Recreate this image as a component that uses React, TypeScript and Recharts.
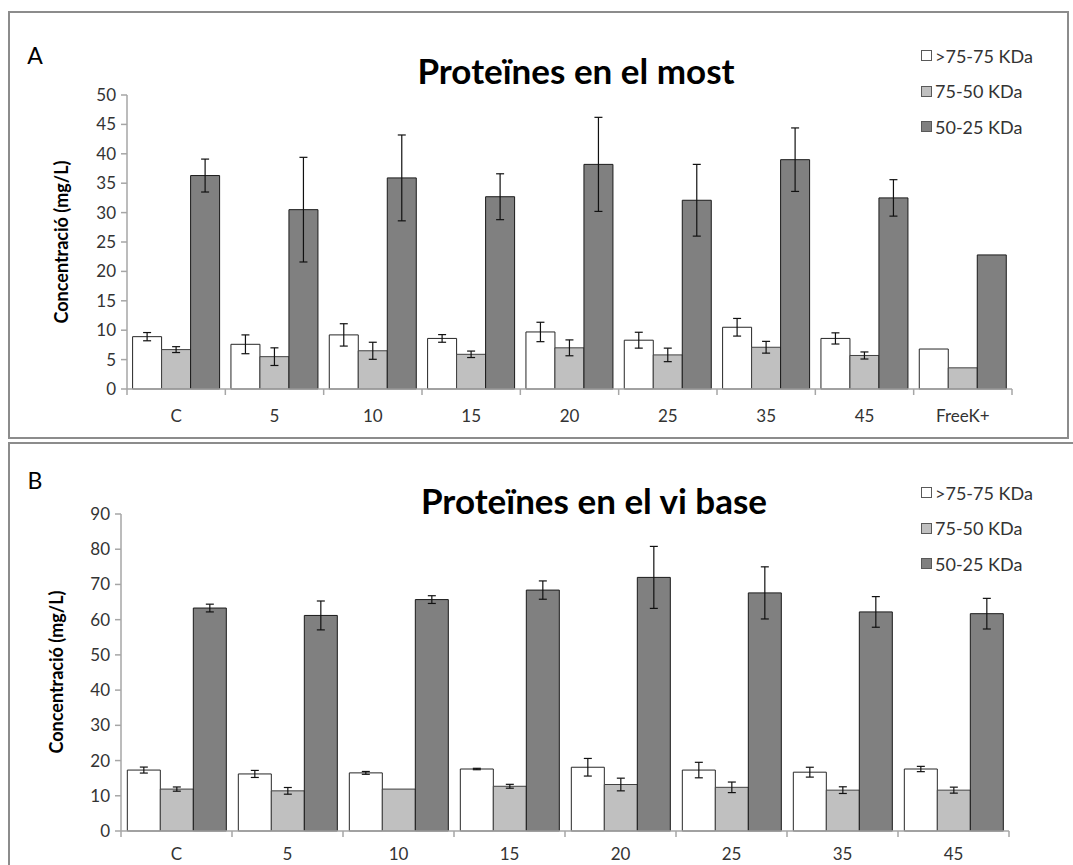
import React from 'react';
import { BarChart, Bar, XAxis, YAxis, ErrorBar, Legend } from 'recharts';

// ---- Panel A: Proteïnes en el most ----
const categoriesA = ['C', '5', '10', '15', '20', '25', '35', '45', 'FreeK+'];
const a7575 = [8.9, 7.6, 9.2, 8.6, 9.7, 8.3, 10.5, 8.6, 6.8];
const a7575Err = [0.7, 1.6, 1.9, 0.65, 1.65, 1.35, 1.5, 0.95, 0];
const a7550 = [6.7, 5.5, 6.5, 5.9, 7.0, 5.8, 7.1, 5.7, 3.6];
const a7550Err = [0.5, 1.5, 1.45, 0.55, 1.35, 1.15, 1.0, 0.6, 0];
const a5025 = [36.3, 30.5, 35.9, 32.7, 38.2, 32.1, 39.0, 32.5, 22.8];
const a5025Err = [2.8, 8.9, 7.3, 3.9, 8.0, 6.1, 5.4, 3.1, 0];
const ticksA = [0, 5, 10, 15, 20, 25, 30, 35, 40, 45, 50];

// ---- Panel B: Proteïnes en el vi base ----
const categoriesB = ['C', '5', '10', '15', '20', '25', '35', '45'];
const b7575 = [17.3, 16.2, 16.5, 17.6, 18.1, 17.3, 16.7, 17.6];
const b7575Err = [0.85, 1.0, 0.4, 0.2, 2.5, 2.2, 1.4, 0.75];
const b7550 = [11.9, 11.4, 11.9, 12.7, 13.2, 12.4, 11.6, 11.6];
const b7550Err = [0.6, 0.95, 0, 0.55, 1.8, 1.5, 0.95, 0.85];
const b5025 = [63.3, 61.2, 65.7, 68.4, 72.0, 67.6, 62.2, 61.7];
const b5025Err = [1.1, 4.1, 1.1, 2.6, 8.8, 7.4, 4.35, 4.35];
const ticksB = [0, 10, 20, 30, 40, 50, 60, 70, 80, 90];

const seriesNames = ['>75-75 KDa', '75-50 KDa', '50-25 KDa'];
const seriesFills = ['#ffffff', '#c0c0c0', '#808080'];

const titleA = 'Proteïnes en el most';
const titleB = 'Proteïnes en el vi base';
const yLabel = 'Concentració (mg/L)';

const FONT = 'Lato, "Open Sans", sans-serif';
const AXIS_COLOR = '#a6a6a6';
const TEXT_COLOR = '#333333';

function buildRows(cats: string[], v1: number[], e1: number[], v2: number[], e2: number[], v3: number[], e3: number[]) {
  return cats.map((c, i) => ({ cat: c, s1: v1[i], e1: e1[i], s2: v2[i], e2: e2[i], s3: v3[i], e3: e3[i] }));
}

const rowsA = buildRows(categoriesA, a7575, a7575Err, a7550, a7550Err, a5025, a5025Err);
const rowsB = buildRows(categoriesB, b7575, b7575Err, b7550, b7550Err, b5025, b5025Err);

function makeCategoryTick(count: number, labelDy: number) {
  return (props: any) => {
    const { x, y, payload, index } = props;
    const half = payload && typeof payload.offset === 'number' ? payload.offset : 0;
    const last = index === count - 1;
    return (
      <g>
        <line x1={x - half} x2={x - half} y1={y} y2={y + 6} stroke={AXIS_COLOR} strokeWidth={1.5} />
        {last ? <line x1={x + half} x2={x + half} y1={y} y2={y + 6} stroke={AXIS_COLOR} strokeWidth={1.5} /> : null}
        <text x={x} y={y + labelDy} textAnchor="middle" fontSize={17} fontFamily={FONT} fill={TEXT_COLOR}>
          {payload.value}
        </text>
      </g>
    );
  };
}

const renderLegend = (props: any) => {
  const payload = (props.payload || []).slice().sort(
    (a: any, b: any) => seriesNames.indexOf(a.value) - seriesNames.indexOf(b.value)
  );
  return (
    <div style={{ fontFamily: FONT }}>
      {payload.map((entry: any, i: number) => (
        <div key={i} style={{ display: 'flex', alignItems: 'center', height: 35.5 }}>
          <span
            style={{
              display: 'inline-block',
              width: 9,
              height: 9,
              border: '1px solid #595959',
              background: entry.color,
              marginRight: 3,
            }}
          />
          <span style={{ fontSize: 18, color: TEXT_COLOR, whiteSpace: 'nowrap' }}>{entry.value}</span>
        </div>
      ))}
    </div>
  );
};

function Panel(props: {
  rows: any[];
  count: number;
  ticks: number[];
  max: number;
  width: number;
  height: number;
  margin: any;
  axisHeight: number;
  labelDy: number;
  legendTop: number;
}) {
  const { rows, count, ticks, max, width, height, margin, axisHeight, labelDy, legendTop } = props;
  return (
    <BarChart
      width={width}
      height={height}
      data={rows}
      margin={margin}
      barCategoryGap="5.7%"
      barGap={0}
      style={{ overflow: 'visible' }}
    >
      <XAxis
        dataKey="cat"
        height={axisHeight}
        axisLine={{ stroke: AXIS_COLOR, strokeWidth: 1.5 }}
        tickLine={false}
        tickSize={0}
        tickMargin={0}
        interval={0}
        tick={makeCategoryTick(count, labelDy)}
      />
      <YAxis
        width={50}
        domain={[0, max]}
        ticks={ticks}
        interval={0}
        axisLine={{ stroke: AXIS_COLOR, strokeWidth: 1.5 }}
        tickLine={{ stroke: AXIS_COLOR, strokeWidth: 1.5 }}
        tickSize={6}
        tickMargin={5}
        tick={{ fontSize: 17, fontFamily: FONT, fill: TEXT_COLOR }}
      />
      <Legend
        layout="vertical"
        align="center"
        verticalAlign="middle"
        content={renderLegend}
        wrapperStyle={{ left: 921, top: legendTop, width: 150, height: 110 }}
      />
      <Bar dataKey="s1" name={seriesNames[0]} fill={seriesFills[0]} stroke="#262626" strokeWidth={1} isAnimationActive={false}>
        <ErrorBar dataKey="e1" width={4} stroke="#111" strokeWidth={1.2} direction="y" />
      </Bar>
      <Bar dataKey="s2" name={seriesNames[1]} fill={seriesFills[1]} stroke="#404040" strokeWidth={1} isAnimationActive={false}>
        <ErrorBar dataKey="e2" width={4} stroke="#111" strokeWidth={1.2} direction="y" />
      </Bar>
      <Bar dataKey="s3" name={seriesNames[2]} fill={seriesFills[2]} stroke="#1a1a1a" strokeWidth={1} isAnimationActive={false}>
        <ErrorBar dataKey="e3" width={4} stroke="#111" strokeWidth={1.2} direction="y" />
      </Bar>
    </BarChart>
  );
}

const overlayText = (text: string, x: number, y: number, style: any) => (
  <div
    style={{
      position: 'absolute',
      left: x,
      top: y,
      transform: 'translate(-50%, -50%)',
      whiteSpace: 'nowrap',
      fontFamily: FONT,
      lineHeight: 1,
      ...style,
    }}
  >
    {text}
  </div>
);

export default function App() {
  return (
    <div style={{ position: 'absolute', left: 0, top: 0, width: 1073, height: 865, background: '#ffffff', overflow: 'hidden' }}>
      {/* panel borders */}
      <div style={{ position: 'absolute', left: 8, top: 11, width: 1061, height: 428, border: '2px solid #8c8c8c', boxSizing: 'border-box' }} />
      <div style={{ position: 'absolute', left: 8, top: 442, width: 1080, height: 440, border: '2px solid #8c8c8c', boxSizing: 'border-box' }} />

      {/* chart A */}
      <div style={{ position: 'absolute', left: 0, top: 0 }}>
        <Panel
          rows={rowsA}
          count={categoriesA.length}
          ticks={ticksA}
          max={50}
          width={1073}
          height={440}
          margin={{ top: 95, right: 61, bottom: 11, left: 77 }}
          axisHeight={40}
          labelDy={33}
          legendTop={38}
        />
      </div>

      {/* chart B */}
      <div style={{ position: 'absolute', left: 0, top: 440 }}>
        <Panel
          rows={rowsB}
          count={categoriesB.length}
          ticks={ticksB}
          max={90}
          width={1073}
          height={425}
          margin={{ top: 74, right: 64, bottom: 0, left: 71 }}
          axisHeight={34}
          labelDy={29}
          legendTop={35}
        />
      </div>

      {overlayText('A', 35, 55, { fontSize: 23, color: '#000' })}
      {overlayText('B', 35, 480, { fontSize: 23, color: '#000' })}
      {overlayText(titleA, 576, 70, { fontSize: 35, fontWeight: 700, color: '#000' })}
      {overlayText(titleB, 594, 500, { fontSize: 35, fontWeight: 700, color: '#000' })}
      {overlayText(yLabel, 61, 242, { fontSize: 18, fontWeight: 700, color: '#000', transform: 'translate(-50%, -50%) rotate(-90deg)' })}
      {overlayText(yLabel, 56, 672, { fontSize: 18, fontWeight: 700, color: '#000', transform: 'translate(-50%, -50%) rotate(-90deg)' })}
    </div>
  );
}
